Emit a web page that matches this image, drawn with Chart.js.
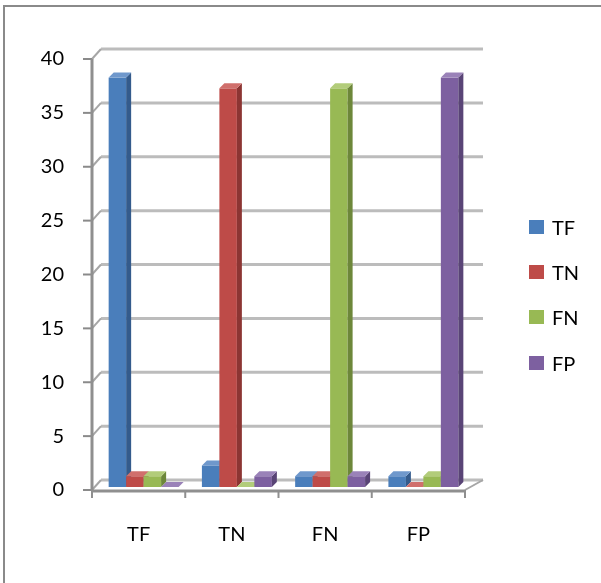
<!DOCTYPE html>
<html>
<head>
<meta charset="utf-8">
<script src="https://cdn.jsdelivr.net/npm/chart.js@4"></script>
<style>
    html, body { margin: 0; padding: 0; background: #fff; overflow: hidden; }
    #wrap { position: relative; width: 601px; height: 583px; overflow: hidden; }
    #frame { position: absolute; left: 3px; top: 5px; width: 700px; height: 700px; border: 2px solid #8a8a8a; }
    #chart { position: absolute; left: 0; top: 0; }
    #legend { position: absolute; left: 529px; top: 204px; font-family: Lato, sans-serif; font-size: 20px; color: #000; }
    .item { display: flex; align-items: center; height: 45.3px; }
    .swatch { width: 15px; height: 14px; margin-right: 8px; }
</style>
</head>
<body>
<div id="wrap">
    <div id="frame"></div>
    <canvas id="chart" width="601" height="583"></canvas>
    <div id="legend"></div>
</div>
<script>
"use strict";

const categories = ["TF", "TN", "FN", "FP"];
const seriesNames = ["TF", "TN", "FN", "FP"];
const tfValues = [38, 2, 1, 1];
const tnValues = [1, 37, 1, 0];
const fnValues = [1, 0, 37, 1];
const fpValues = [0, 1, 1, 38];
const yMin = 0;
const yMax = 40;
const yStep = 5;

const frontColors = ["#4a7ebb", "#be4b48", "#98b954", "#7d60a0"];
const sideColors = ["#345b8c", "#8c3533", "#6d873a", "#594476"];
const topColors = ["#6f98cc", "#d06f6c", "#b2cc7a", "#9a82b8"];

const font = { family: "Lato, sans-serif", size: 20 };

document.addEventListener("DOMContentLoaded", () => {
    buildLegend();
    initializeChart();
});

function buildLegend() {
    const legend = document.getElementById("legend");
    seriesNames.forEach((name, i) => {
        const item = document.createElement("div");
        item.className = "item";
        item.innerHTML = `<span class="swatch" style="background:${frontColors[i]}"></span><span>${name}</span>`;
        legend.appendChild(item);
    });
}

// walls, floor and grid of the 3D box; bars are placed at mid depth of the floor
const threeDPlugin = {
    id: "threeD",
    beforeDatasetsDraw(chart) {
        const { ctx, chartArea } = chart;
        const { left, right, top, bottom } = chartArea;
        const yScale = chart.scales.y;
        const backLeft = left + 9;
        const backRight = right + 18;
        const depthY = -10;

        ctx.save();
        ctx.lineCap = "butt";

        yScale.ticks.forEach(tick => {
            const yf = yScale.getPixelForValue(tick.value);
            const yb = yf + depthY;

            ctx.strokeStyle = "#bcbcbc";
            ctx.lineWidth = 3;
            ctx.beginPath();
            ctx.moveTo(backLeft, yb);
            ctx.lineTo(backRight, yb);
            ctx.stroke();

            ctx.strokeStyle = "#a6a6a6";
            ctx.lineWidth = 2;
            ctx.beginPath();
            ctx.moveTo(left, yf);
            ctx.lineTo(backLeft, yb);
            ctx.stroke();

            ctx.strokeStyle = "#8a8a8a";
            ctx.beginPath();
            ctx.moveTo(left - 9, yf);
            ctx.lineTo(left, yf);
            ctx.stroke();
        });

        ctx.strokeStyle = "#8f8f8f";
        ctx.lineWidth = 3;
        ctx.beginPath();
        ctx.moveTo(left, top);
        ctx.lineTo(left, bottom + 1);
        ctx.stroke();

        ctx.strokeStyle = "#a6a6a6";
        ctx.lineWidth = 2;
        ctx.beginPath();
        ctx.moveTo(right, bottom);
        ctx.lineTo(backRight, bottom + depthY);
        ctx.stroke();

        ctx.restore();
    },
    afterDatasetsDraw(chart) {
        const { ctx, chartArea } = chart;
        const { left, right, bottom } = chartArea;
        const d = 5;
        const shiftX = 5;
        const shiftY = -3;

        ctx.save();
        // left to right, so each bar covers the side of the one before it
        chart.data.datasets.forEach((ds, i) => {
            const meta = chart.getDatasetMeta(i);
            meta.data.forEach(bar => {
                const p = bar.getProps(["x", "y", "base", "width"], true);
                const x0 = p.x - p.width / 2 + shiftX;
                const x1 = p.x + p.width / 2 + shiftX;
                const yTop = Math.min(p.y, p.base) + shiftY;
                const yBase = Math.max(p.y, p.base) + shiftY;

                ctx.fillStyle = frontColors[i];
                ctx.fillRect(x0, yTop, x1 - x0, yBase - yTop);

                ctx.fillStyle = sideColors[i];
                ctx.beginPath();
                ctx.moveTo(x1, yTop);
                ctx.lineTo(x1 + d, yTop - d);
                ctx.lineTo(x1 + d, yBase - d);
                ctx.lineTo(x1, yBase);
                ctx.closePath();
                ctx.fill();

                ctx.fillStyle = topColors[i];
                ctx.beginPath();
                ctx.moveTo(x0, yTop);
                ctx.lineTo(x1, yTop);
                ctx.lineTo(x1 + d, yTop - d);
                ctx.lineTo(x0 + d, yTop - d);
                ctx.closePath();
                ctx.fill();
            });
        });

        ctx.strokeStyle = "#8f8f8f";
        ctx.lineWidth = 3;
        ctx.beginPath();
        ctx.moveTo(left, bottom + 1);
        ctx.lineTo(right, bottom + 1);
        ctx.stroke();

        ctx.lineWidth = 2;
        const step = (right - left) / categories.length;
        for (let i = 0; i <= categories.length; i++) {
            const x = left + i * step;
            ctx.beginPath();
            ctx.moveTo(x, bottom);
            ctx.lineTo(x, bottom + 8);
            ctx.stroke();
        }
        ctx.restore();
    }
};

function initializeChart() {
    const ctx = document.getElementById("chart");

    new Chart(ctx, {
        type: "bar",
        data: {
            labels: categories,
            datasets: [
                { label: seriesNames[0], data: tfValues },
                { label: seriesNames[1], data: tnValues },
                { label: seriesNames[2], data: fnValues },
                { label: seriesNames[3], data: fpValues }
            ]
        },
        options: {
            responsive: false,
            animation: false,
            categoryPercentage: 0.75,
            barPercentage: 1.0,
            // faces are painted by threeDPlugin
            backgroundColor: "rgba(0,0,0,0)",
            layout: {
                padding: { top: 59, right: 136, bottom: 0, left: 0 }
            },
            plugins: {
                legend: { display: false },
                tooltip: { enabled: false }
            },
            scales: {
                x: {
                    grid: { display: false, drawTicks: false },
                    border: { display: false },
                    ticks: { font: font, color: "#000", padding: 33 },
                    afterFit: scale => { scale.height = 93; }
                },
                y: {
                    min: yMin,
                    max: yMax,
                    grid: { display: false, drawTicks: false },
                    border: { display: false },
                    ticks: { stepSize: yStep, font: font, color: "#000", padding: 28 },
                    afterFit: scale => { scale.width = 92; }
                }
            }
        },
        plugins: [threeDPlugin]
    });
}
</script>
</body>
</html>
